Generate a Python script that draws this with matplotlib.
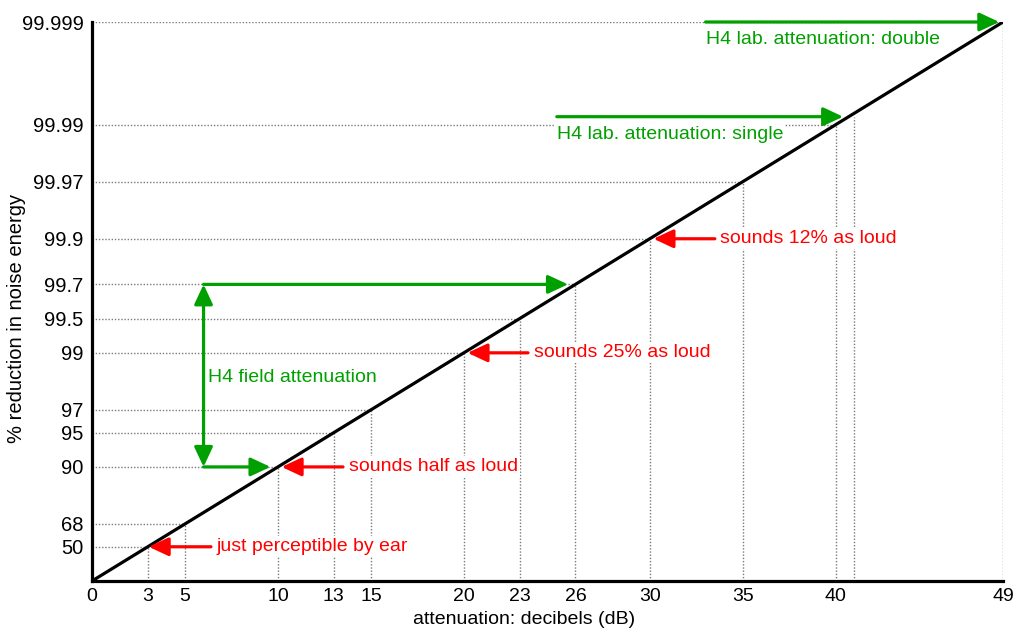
import matplotlib
matplotlib.use("Agg")
import matplotlib.pyplot as plt

plt.rcParams['font.family'] = ['Liberation Sans', 'DejaVu Sans']

# ---- data ----
diag_db = [0, 49]
x_ticks = [0, 3, 5, 10, 13, 15, 20, 23, 26, 30, 35, 40, 49]
y_ticks_db = [3, 5, 10, 13, 15, 20, 23, 26, 30, 35, 40, 49]
y_tick_labels = ['50', '68', '90', '95', '97', '99', '99.5', '99.7', '99.9', '99.97', '99.99', '99.999']
vline_db = [3, 5, 10, 13, 15, 20, 23, 26, 30, 35, 40, 41, 49]

# red annotations: (label, level dB, tail x, tip x)
red_labels = ['just perceptible by ear', 'sounds half as loud', 'sounds 25% as loud', 'sounds 12% as loud']
red_level = [3, 10, 20, 30]
red_tail = [6.4, 13.5, 23.45, 33.5]
red_tip = [3.05, 10.2, 20.2, 30.2]

# green annotations
lab_labels = ['H4 lab. attenuation: double', 'H4 lab. attenuation: single']
lab_level = [49, 40.7]
lab_start = [33, 25]
lab_tip = [48.8, 40.4]
field_label = 'H4 field attenuation'
field_x = 6
field_low = 10
field_high = 26
field_low_tip = 9.6
field_high_tip = 25.6

GREEN = '#00a000'
RED = '#ff0000'
GRAY = '#7a7a7a'

fig = plt.figure(figsize=(10.16, 6.30), dpi=100)
ax = fig.add_axes([92/1016, 49/630, 911/1016, 559/630])
ax.set_xlim(0, 49)
ax.set_ylim(0, 49)

dot = dict(color=GRAY, lw=1.0, linestyle=(0, (1, 1.3)), zorder=1)
for y in y_ticks_db:
    ax.plot([0, y], [y, y], **dot)
for x in vline_db:
    top = min(x, 49)
    if x == 41:
        top = lab_level[1]
    ax.plot([x, x], [0, top], **dot)

ax.plot(diag_db, diag_db, color='black', lw=2.3, zorder=4, solid_capstyle='butt')

ax.spines['top'].set_visible(False)
ax.spines['right'].set_visible(False)
for s in ['left', 'bottom']:
    ax.spines[s].set_linewidth(2.3)
    ax.spines[s].set_zorder(6)

ax.set_xticks(x_ticks)
ax.set_xticklabels([str(v) for v in x_ticks], fontsize=14)
ax.set_yticks(y_ticks_db)
ax.set_yticklabels(y_tick_labels, fontsize=14.5)
ax.tick_params(axis='x', length=0, pad=5)
ax.tick_params(axis='y', length=0, pad=6)

ax.set_xlabel('attenuation: decibels (dB)', fontsize=14)
ax.xaxis.set_label_coords(0.474, -0.069)
ax.xaxis.label.set_va('center')
ax.set_ylabel('% reduction in noise energy', fontsize=14.5)
ax.yaxis.set_label_coords(-0.083, 0.47)
ax.yaxis.label.set_va('center')

bbox = dict(facecolor='white', edgecolor='none', pad=1.5)

def arrow(x0, y0, x1, y1, color, style='-|>'):
    ax.annotate('', xy=(x1, y1), xytext=(x0, y0),
                arrowprops=dict(arrowstyle=f'{style},head_length=0.6,head_width=0.28',
                                color=color, lw=2.3, shrinkA=0, shrinkB=0,
                                mutation_scale=20),
                zorder=5, annotation_clip=False)

for lab, lvl, tail, tip in zip(red_labels, red_level, red_tail, red_tip):
    arrow(tail, lvl, tip, lvl, RED)
    ax.text(tail + 0.3, lvl, lab, color=RED, fontsize=14, va='center', ha='left',
            bbox=bbox, zorder=3)

for lab, lvl, st, tip in zip(lab_labels, lab_level, lab_start, lab_tip):
    arrow(st, lvl, tip, lvl, GREEN)
    ax.text(st, lvl - 1.55, lab, color=GREEN, fontsize=14, va='center', ha='left',
            bbox=bbox, zorder=3)

arrow(field_x, field_low, field_x, field_high, GREEN, style='<|-|>')
arrow(field_x, field_high, field_high_tip, field_high, GREEN)
arrow(field_x, field_low, field_low_tip, field_low, GREEN)
ax.text(field_x + 0.25, 17.8, field_label, color=GREEN, fontsize=14, va='center', ha='left',
        bbox=bbox, zorder=3)

fig.savefig('out.png', dpi=100, facecolor='white')
